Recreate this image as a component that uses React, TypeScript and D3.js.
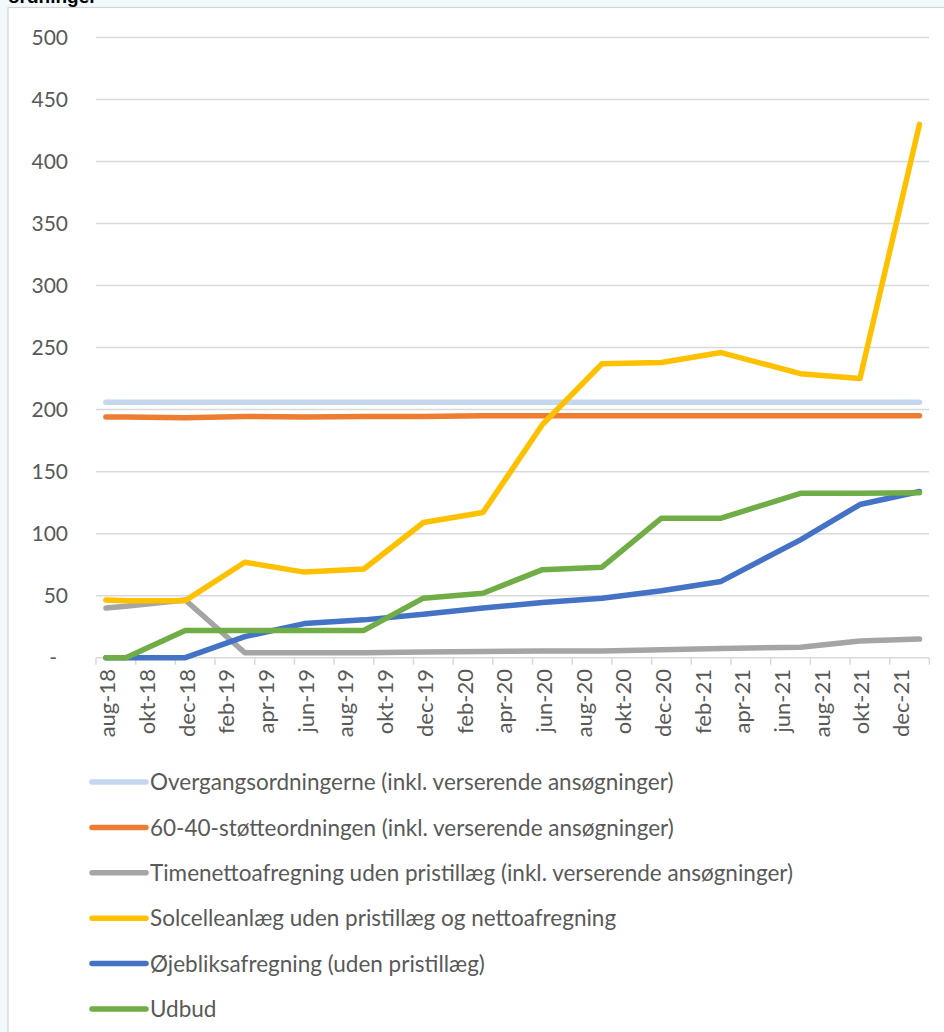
import * as d3 from 'd3'
import React from 'react'

// data points (month of observation)
const dates = ['2018-08', '2018-09', '2018-12', '2019-03', '2019-06', '2019-09', '2019-12', '2020-03',
  '2020-06', '2020-09', '2020-12', '2021-03', '2021-07', '2021-10', '2022-01']

const overgang = [206, 206, 206, 206, 206, 206, 206, 206, 206, 206, 206, 206, 206, 206, 206]
const stoette6040 = [194, 194, 193.5, 194.5, 194, 194.5, 194.5, 195, 195, 195, 195, 195, 195, 195, 195]
const timenetto = [40, 41.5, 46.5, 4, 4, 4, 4.5, 5, 5.5, 5.5, 6.5, 7.5, 8.5, 13.5, 15]
const solcelle = [46.5, 46, 46, 77, 69, 71.5, 109, 117, 188, 237, 238, 246, 229, 225, 430]
const oejeblik = [0, 0, 0, 17, 27.5, 30.5, 35, 40, 44.5, 48, 54, 61.5, 95, 123.5, 134]
const udbud = [0, 0, 22, 22, 22, 22, 48, 52, 71, 73, 112.5, 112.5, 132.5, 132.5, 133]

const seriesNames = [
  'Overgangsordningerne (inkl. verserende ansøgninger)',
  '60-40-støtteordningen (inkl. verserende ansøgninger)',
  'Timenettoafregning uden pristillæg (inkl. verserende ansøgninger)',
  'Solcelleanlæg uden pristillæg og nettoafregning',
  'Øjebliksafregning (uden pristillæg)',
  'Udbud',
]
const seriesColors = ['#c5d7ef', '#ed7d31', '#a5a5a5', '#ffc000', '#4472c4', '#70ad47']

const xTickLabels = ['aug-18', 'okt-18', 'dec-18', 'feb-19', 'apr-19', 'jun-19', 'aug-19', 'okt-19', 'dec-19',
  'feb-20', 'apr-20', 'jun-20', 'aug-20', 'okt-20', 'dec-20', 'feb-21', 'apr-21', 'jun-21', 'aug-21', 'okt-21', 'dec-21']
const yTicks = [0, 50, 100, 150, 200, 250, 300, 350, 400, 450, 500]

const W = 944
const H = 1032
const FONT = 'Lato, "Open Sans", sans-serif'

const monthIndex = (s: string) => {
  const [y, m] = s.split('-').map(Number)
  return (y - 2018) * 12 + (m - 8)
}

const App = () => {
  // 42 months on the date axis: aug-18 .. jan-22
  const x = d3.scaleLinear().domain([0, 42]).range([96, 929.4])
  const y = d3.scaleLinear().domain([0, 500]).range([657.7, 37.5])

  const allSeries = [overgang, stoette6040, timenetto, solcelle, oejeblik, udbud]
  const line = d3.line<number>()
    .x((_, i) => x(monthIndex(dates[i]) + 0.5))
    .y(d => y(d))

  const legendY0 = 782
  const legendStep = 45.4

  return (
    <svg width={W} height={H} style={{ position: 'absolute', left: 0, top: 0 }}>
      <rect x={0} y={0} width={W} height={H} fill="#f1f9fd" />
      <rect x={8} y={7.5} width={W} height={H} fill="#ffffff" stroke="#d4d4d4" strokeWidth={1.2} />
      <text x={8} y={3} fontFamily="'Liberation Sans', Arial, sans-serif" fontWeight="bold" fontSize={19} fill="#000">ordninger</text>

      {/* gridlines + y labels */}
      {yTicks.map(t => (
        <g key={t}>
          {t > 0 && <line x1={96} x2={929} y1={y(t)} y2={y(t)} stroke="#d9d9d9" strokeWidth={1.5} />}
          <text x={t === 0 ? 57 : 68} y={y(t)} dy="0.36em" textAnchor="end" fontFamily={FONT} fontSize={21} fill="#595959">
            {t === 0 ? '-' : t}
          </text>
        </g>
      ))}

      {/* x axis */}
      <line x1={96} x2={929} y1={y(0)} y2={y(0)} stroke="#d9d9d9" strokeWidth={1.5} />
      {d3.range(0, 43, 2).map(m => (
        <line key={m} x1={x(m)} x2={x(m)} y1={y(0)} y2={y(0) + 7} stroke="#d9d9d9" strokeWidth={1.5} />
      ))}
      {xTickLabels.map((lab, i) => {
        const cx = x(i * 2 + 0.5) + 1.5
        return (
          <text key={lab} transform={`translate(${cx},669) rotate(-90)`} dy="0.36em" textAnchor="end"
            fontFamily={FONT} fontSize={22} fill="#595959">{lab}</text>
        )
      })}

      {/* lines */}
      {allSeries.map((s, i) => (
        <path key={i} d={line(s) ?? ''} fill="none" stroke={seriesColors[i]} strokeWidth={5.5}
          strokeLinecap="round" strokeLinejoin="round" />
      ))}

      {/* legend */}
      {seriesNames.map((n, i) => {
        const ly = legendY0 + i * legendStep
        return (
          <g key={n}>
            <line x1={92} x2={146} y1={ly} y2={ly} stroke={seriesColors[i]} strokeWidth={5.5} strokeLinecap="round" />
            <text x={150} y={ly} dy="0.36em" fontFamily={FONT} fontSize={22.5} fill="#595959">{n}</text>
          </g>
        )
      })}
    </svg>
  )
}

export default App
